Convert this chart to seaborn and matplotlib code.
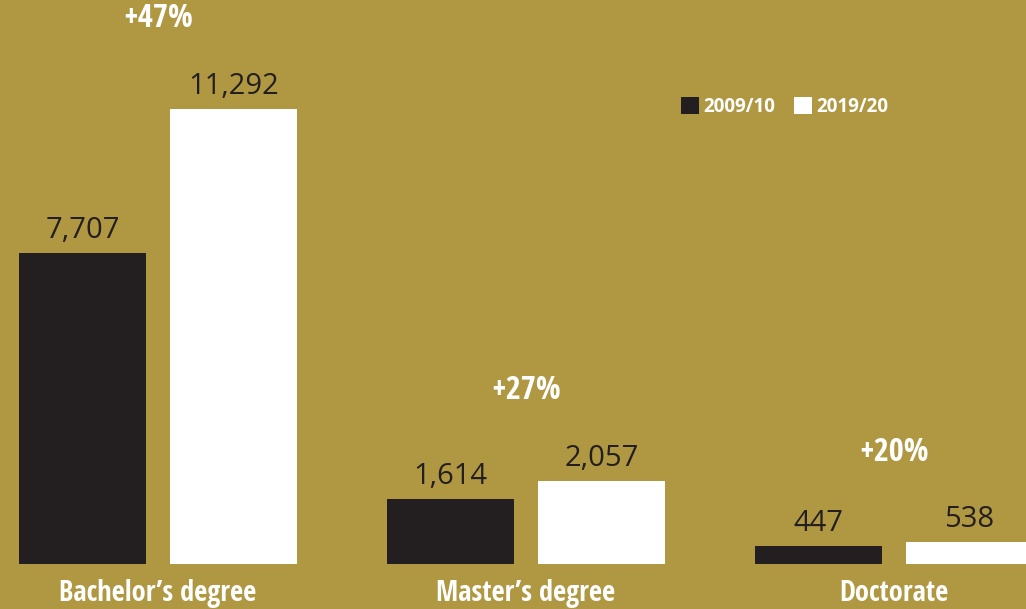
import matplotlib
matplotlib.use("Agg")
import matplotlib.pyplot as plt
from matplotlib import font_manager
from matplotlib.patches import Patch
import pandas as pd
import seaborn as sns

degrees = ["Bachelor\u2019s degree", "Master\u2019s degree", "Doctorate"]
years = ["2009/10", "2019/20"]
counts_2009 = [7707, 1614, 447]
counts_2019 = [11292, 2057, 538]

bg = "#B09842"
dark = "#231F20"
white = "#FFFFFF"

df = pd.DataFrame({
    "degree": degrees * 2,
    "year": [years[0]] * 3 + [years[1]] * 3,
    "count": counts_2009 + counts_2019,
})

# look for a narrow face for the bold headings, fall back to DejaVu
names = sorted({f.name for f in font_manager.fontManager.ttflist})
narrow = [n for n in names if "Condensed" in n or "Narrow" in n]
pref = ["Open Sans Condensed", "Roboto Condensed", "Noto Sans Condensed",
        "Liberation Sans Narrow", "DejaVu Sans Condensed"]
cond_font = next((p for p in pref if p in narrow), narrow[0] if narrow else "DejaVu Sans")
cond_family = [cond_font, "DejaVu Sans"]

sns.set_theme(style="white")
plt.rcParams["font.family"] = ["Open Sans", "DejaVu Sans"]

fig = plt.figure(figsize=(10.26, 6.09), dpi=100, facecolor=bg)
ax = fig.add_axes([0, 45 / 609, 1, 564 / 609])
ax.set_facecolor(bg)

sns.barplot(data=df, x="degree", y="count", hue="year",
            palette=[dark, white], width=0.82, gap=0.16,
            saturation=1, linewidth=0, legend=False, ax=ax)

ax.set_xlim(-158 / 368, (1026 - 158) / 368)
ax.set_ylim(0, 564 / 0.0403)

for cont in ax.containers:
    ax.bar_label(cont, labels=[f"{v:,.0f}" for v in cont.datavalues],
                 padding=6, fontsize=21, color=dark)

# percentage change above each pair
for i in range(len(degrees)):
    pct = round((counts_2019[i] / counts_2009[i] - 1) * 100)
    ax.annotate(f"+{pct}%", xy=(i, max(counts_2009[i], counts_2019[i])),
                xytext=(0, 65), textcoords="offset points",
                ha="center", va="center", fontsize=23.5, fontweight="bold",
                color=white, family=cond_family)

ax.set_xticks(range(len(degrees)))
ax.set_xticklabels(degrees, fontsize=20.5, fontweight="bold", color=white,
                   family=cond_family)
ax.tick_params(axis="x", length=0, pad=11)
ax.set_yticks([])
ax.set_xlabel("")
ax.set_ylabel("")
sns.despine(ax=ax, left=True, bottom=True)

handles = [Patch(facecolor=dark, edgecolor="none", label=years[0]),
           Patch(facecolor=white, edgecolor="none", label=years[1])]
leg = fig.legend(handles=handles, loc="center left",
                 bbox_to_anchor=(664 / 1026, 1 - 107 / 609), ncol=2,
                 frameon=False, handlelength=0.95, handleheight=0.95,
                 handletextpad=0.25, columnspacing=1.0,
                 prop={"weight": "bold", "size": 13.5})
for t in leg.get_texts():
    t.set_color(white)

fig.savefig("out.png", dpi=100, facecolor=bg)
